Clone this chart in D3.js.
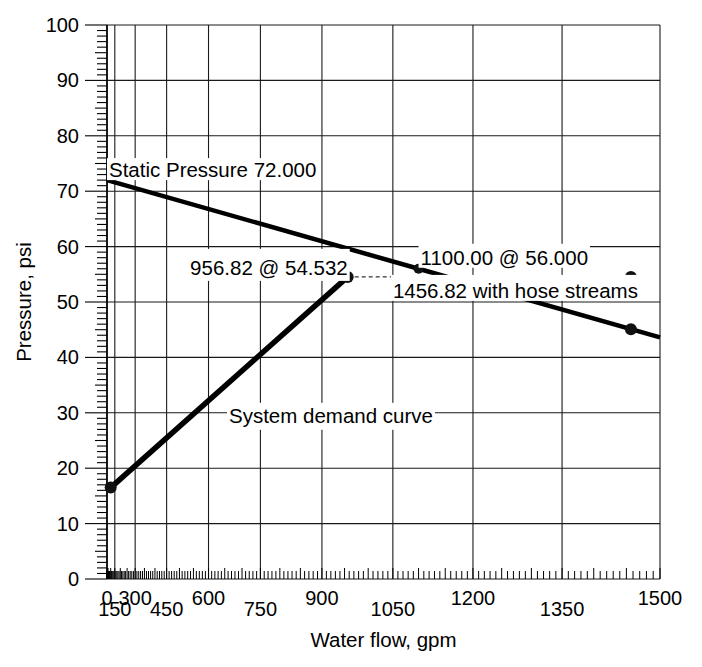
<!DOCTYPE html>
<html>
<head>
<meta charset="utf-8">
<script src="https://cdn.jsdelivr.net/npm/d3@7"></script>
<style>
  html, body { margin: 0; padding: 0; background: #fff; }
  svg { display: block; font-family: "Liberation Sans", Arial, sans-serif; }
</style>
</head>
<body>
<div id="chart"></div>
<script>
// Water supply graph on N^1.85 paper
const flowTicks = [0, 150, 300, 450, 600, 750, 900, 1050, 1200, 1350, 1500];
const pressureTicks = [0, 10, 20, 30, 40, 50, 60, 70, 80, 90, 100];

// water supply curve (static 72 psi, residual 56 psi @ 1100 gpm)
const supplyFlow = [0, 1100, 1500];
const supplyPressure = [72, 56, 43.6];

// system demand curve
const demandFlow = [100, 956.82];
const demandPressure = [16.5, 54.532];

// hose stream allowance (dashed)
const hoseFlow = [956.82, 1456.82];
const hosePressure = [54.532, 54.532];

// marked points
const pointFlow = [100, 956.82, 1100, 1456.82, 1456.82];
const pointPressure = [16.5, 54.532, 56, 45.1, 54.532];

const labelTexts = [
  "Static Pressure 72.000",
  "956.82 @ 54.532",
  "1100.00 @ 56.000",
  "1456.82 with hose streams",
  "System demand curve"
];

const width = 702, height = 667;
const margin = { top: 25, right: 42, bottom: 88, left: 107 };
const iw = width - margin.left - margin.right;   // 553
const ih = height - margin.top - margin.bottom;  // 554

const x = d3.scalePow().exponent(1.85).domain([0, 1500]).range([0, iw]);
const y = d3.scaleLinear().domain([0, 100]).range([ih, 0]);

const svg = d3.select("#chart").append("svg")
    .attr("width", width)
    .attr("height", height);

const g = svg.append("g").attr("transform", `translate(${margin.left},${margin.top})`);

// grid
g.append("g").selectAll("line")
  .data(flowTicks)
  .join("line")
    .attr("x1", d => x(d)).attr("x2", d => x(d))
    .attr("y1", 0).attr("y2", ih)
    .attr("stroke", "#1a1a1a").attr("stroke-width", 1.1);

g.append("g").selectAll("line")
  .data(pressureTicks)
  .join("line")
    .attr("x1", 0).attr("x2", iw)
    .attr("y1", d => y(d)).attr("y2", d => y(d))
    .attr("stroke", "#1a1a1a").attr("stroke-width", 1.1);

// left axis line
g.append("line").attr("x1", 0).attr("x2", 0).attr("y1", 0).attr("y2", ih)
  .attr("stroke", "#000").attr("stroke-width", 1.6);

// y minor ticks (every 1 psi) outside, major ticks longer
g.append("g").selectAll("line")
  .data(d3.range(0, 101, 1))
  .join("line")
    .attr("x1", d => d % 10 === 0 ? -22 : (d % 5 === 0 ? -12 : -10))
    .attr("x2", 0)
    .attr("y1", d => y(d)).attr("y2", d => y(d))
    .attr("stroke", "#000").attr("stroke-width", 1.1);

// x minor ticks (every 10 gpm) inside, above the bottom line
g.append("g").selectAll("line")
  .data(d3.range(0, 1501, 10))
  .join("line")
    .attr("x1", d => x(d)).attr("x2", d => x(d))
    .attr("y1", ih).attr("y2", d => ih - (d % 50 === 0 ? 11 : 8))
    .attr("stroke", "#000").attr("stroke-width", 1);

// y tick labels
g.append("g").selectAll("text")
  .data(pressureTicks)
  .join("text")
    .attr("x", -28)
    .attr("y", d => y(d))
    .attr("dy", "0.35em")
    .attr("text-anchor", "end")
    .style("font-size", "20px")
    .text(d => d);

// x tick labels, staggered in two rows
g.append("g").selectAll("text")
  .data(flowTicks)
  .join("text")
    .attr("x", d => x(d))
    .attr("y", (d, i) => ih + (i % 2 === 0 ? 26 : 37))
    .attr("text-anchor", "middle")
    .style("font-size", "20px")
    .text(d => d);

// axis titles
svg.append("text")
  .attr("x", margin.left + iw / 2)
  .attr("y", 647)
  .attr("text-anchor", "middle")
  .style("font-size", "20.5px")
  .text("Water flow, gpm");

svg.append("text")
  .attr("transform", `translate(31,${margin.top + ih / 2}) rotate(-90)`)
  .attr("text-anchor", "middle")
  .style("font-size", "20.5px")
  .text("Pressure, psi");

// curves
const line = d3.line().x(d => x(d[0])).y(d => y(d[1]));

g.append("path")
  .datum(supplyFlow.map((f, i) => [f, supplyPressure[i]]))
  .attr("d", line)
  .attr("fill", "none").attr("stroke", "#000").attr("stroke-width", 4.5);

g.append("path")
  .datum(demandFlow.map((f, i) => [f, demandPressure[i]]))
  .attr("d", line)
  .attr("fill", "none").attr("stroke", "#000").attr("stroke-width", 5.5);

g.append("path")
  .datum(hoseFlow.map((f, i) => [f, hosePressure[i]]))
  .attr("d", line)
  .attr("fill", "none").attr("stroke", "#000").attr("stroke-width", 1)
  .attr("stroke-dasharray", "4,3");

g.append("g").selectAll("circle")
  .data(pointFlow.map((f, i) => [f, pointPressure[i]]))
  .join("circle")
    .attr("cx", d => x(d[0]))
    .attr("cy", d => y(d[1]))
    .attr("r", (d, i) => i === 2 ? 5 : 6)
    .attr("fill", "#111");

// annotation labels with white backing boxes (box spans baseline-top .. baseline+bottom)
const labelPos = [
  { x: x(0) + 2,        y: y(72) - 3,      anchor: "start", top: 19, bottom: 3 },
  { x: x(956.82),       y: y(54.532) - 2,  anchor: "end",   top: 26, bottom: 6 },
  { x: x(1100) + 2,     y: y(56) - 4,      anchor: "start", top: 21, bottom: 3 },
  { x: x(1456.82) + 7,  y: y(54.532) + 21, anchor: "end",   top: 23, bottom: 3 },
  { x: 122,             y: y(30) + 10,     anchor: "start", top: 20, bottom: 7 }
];

labelTexts.forEach((t, i) => {
  const p = labelPos[i];
  const lg = g.append("g");
  const rect = lg.append("rect").attr("fill", "#fff");
  const txt = lg.append("text")
    .attr("x", p.x).attr("y", p.y)
    .attr("text-anchor", p.anchor)
    .style("font-size", "20.5px")
    .text(t);
  const bb = txt.node().getBBox();
  rect.attr("x", bb.x - 2).attr("y", p.y - p.top)
      .attr("width", bb.width + 4).attr("height", p.top + p.bottom);
});
</script>
</body>
</html>
